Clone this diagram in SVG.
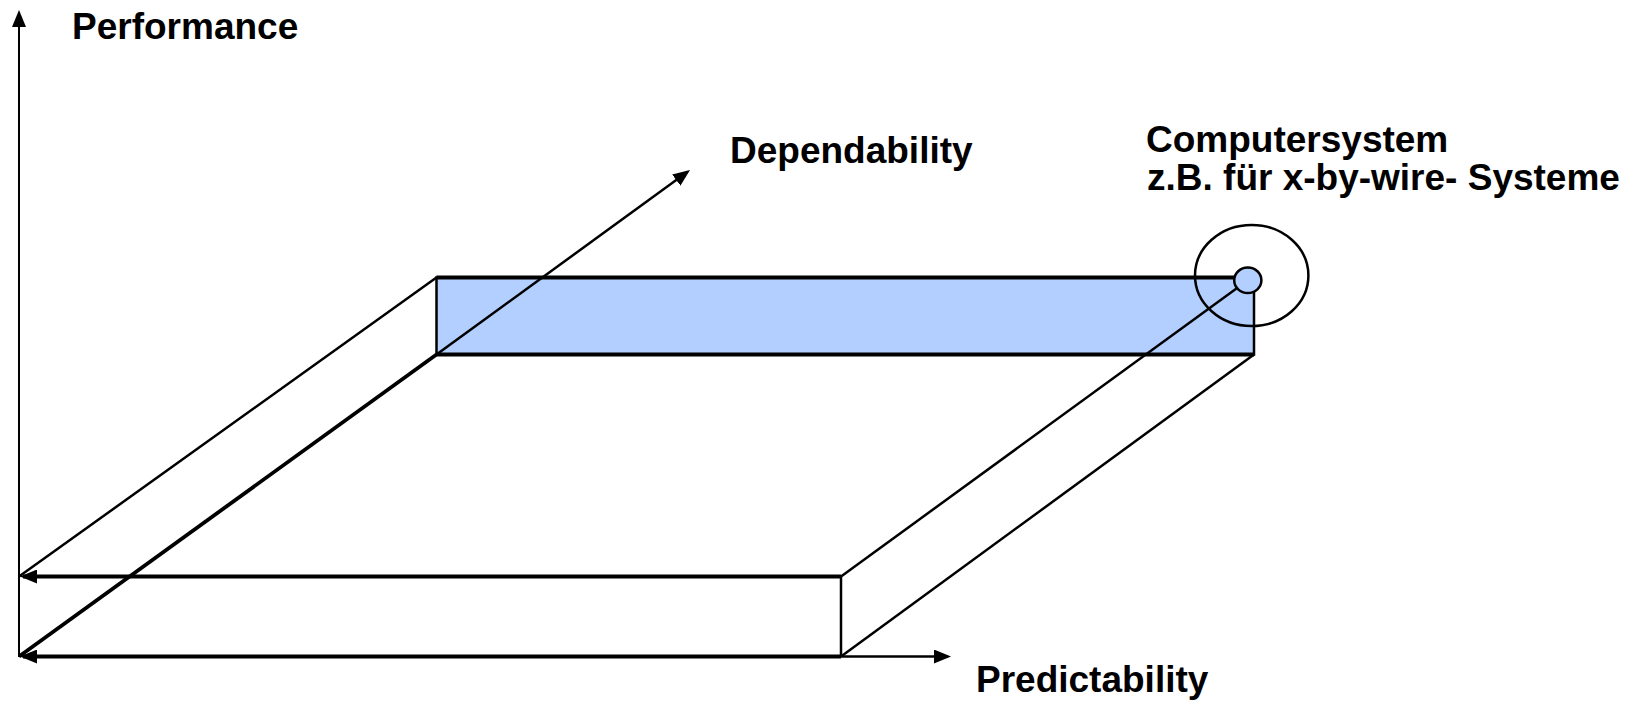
<svg xmlns="http://www.w3.org/2000/svg" width="1629" height="704" viewBox="0 0 1629 704">
  <style>
    .lbl { font-family: "Liberation Sans", Arial, sans-serif; font-weight: bold; font-size: 37px; fill: #000; }
    .thin { stroke: #000; stroke-width: 2.5; fill: none; }
    .thick { stroke: #000; stroke-width: 3.8; fill: none; }
    .axis { stroke: #000; stroke-width: 2; fill: none; }
  </style>
  <defs>
    <marker id="ah" markerUnits="userSpaceOnUse" markerWidth="17" markerHeight="14" refX="14" refY="7" orient="auto">
      <path d="M0,0 L17,7 L0,14 z" fill="#000"/>
    </marker>
  </defs>
  <rect width="1629" height="704" fill="#fff"/>

  <g id="back-face">
    <rect x="436.5" y="277.5" width="817.5" height="77" fill="#b3cfff" stroke="#000" stroke-width="2.5"/>
  </g>

  <g id="connectors">
    <!-- performance axis -->
    <line class="axis" x1="19" y1="657" x2="19" y2="13" marker-end="url(#ah)"/>
    <!-- slab diagonals -->
    <line class="thin" x1="19" y1="576.5" x2="436.5" y2="277.5"/>
    <line class="thick" x1="19" y1="656.5" x2="436.5" y2="354.5"/>
    <line class="thin" x1="436.5" y1="354.5" x2="687.6" y2="171.8" marker-end="url(#ah)"/>
    <line class="thin" x1="841" y1="576.5" x2="1247.8" y2="280.3"/>
    <line class="thin" x1="841" y1="656.5" x2="1254" y2="354.5"/>
    <!-- back face top and bottom -->
    <line class="thick" x1="436.5" y1="277.5" x2="1254" y2="277.5"/>
    <line class="thick" x1="436.5" y1="354.5" x2="1254" y2="354.5"/>
    <!-- front face -->
    <line class="thin" x1="841" y1="576.5" x2="841" y2="656.5"/>
    <line class="thick" x1="841" y1="576.5" x2="23" y2="576.5" marker-end="url(#ah)"/>
    <line class="thick" x1="841" y1="656.5" x2="23" y2="656.5" marker-end="url(#ah)"/>
    <line class="thin" x1="841" y1="656.5" x2="948" y2="656.5" marker-end="url(#ah)"/>
  </g>

  <g id="computersystem-marker">
    <ellipse cx="1251.7" cy="275.5" rx="56.7" ry="50.5" fill="none" stroke="#000" stroke-width="2.5"/>
    <ellipse cx="1247.8" cy="280.3" rx="13.6" ry="12.8" fill="#b3cfff" stroke="#000" stroke-width="2.5"/>
  </g>

  <g id="labels">
    <text class="lbl" x="72" y="39">Performance</text>
    <text class="lbl" x="730" y="163">Dependability</text>
    <text class="lbl" x="976" y="692">Predictability</text>
    <text class="lbl" x="1146" y="152">Computersystem</text>
    <text class="lbl" x="1147" y="190">z.B. für x-by-wire- Systeme</text>
  </g>
</svg>
